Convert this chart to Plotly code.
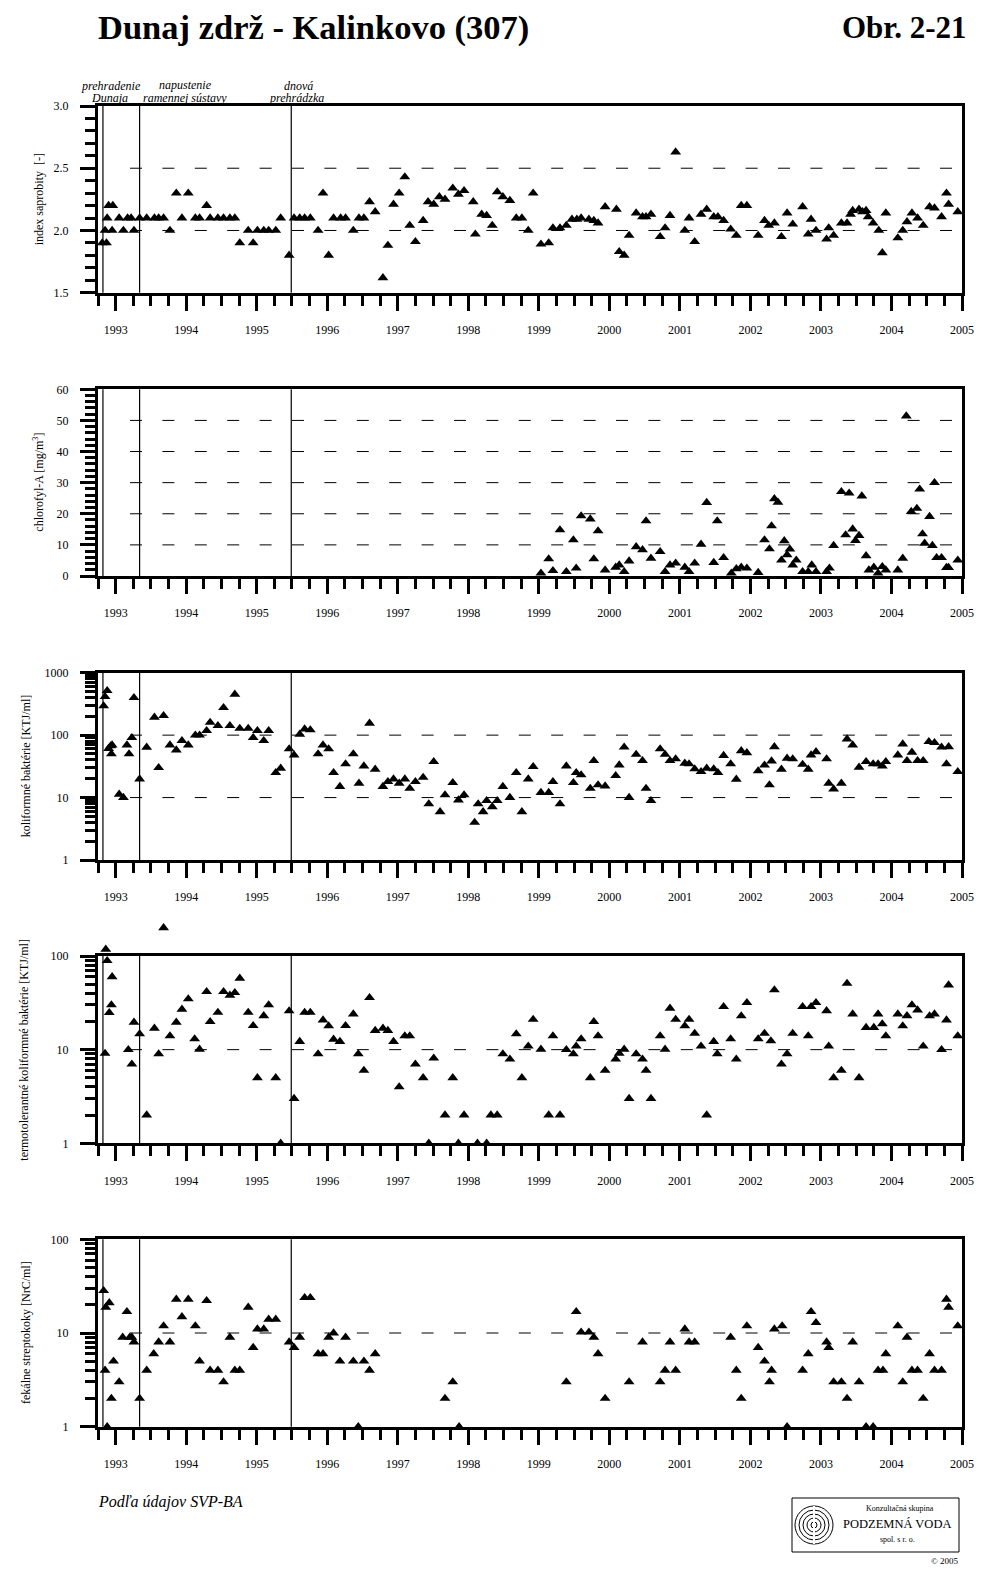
import plotly.graph_objects as go

# The page body has an 8px margin, so the figure is 16px smaller than the window
PAGE_W, PAGE_H = 992, 1574
OFF = 8
W, H = PAGE_W - 2 * OFF, PAGE_H - 2 * OFF

TITLE = "Dunaj zdrž - Kalinkovo (307)"
FIG_NO = "Obr. 2-21"
SOURCE = "Podľa údajov SVP-BA"

EVENT_DATES = [1992.82, 1993.34, 1995.49]
EVENT_LABELS = [("prehradenie", "Dunaja"), ("napustenie", "ramennej sústavy"), ("dnová", "prehrádzka")]

# ---------- panel 1: index saprobity ----------
T_SAP = [1992.81, 1992.85, 1992.87, 1992.88, 1992.90, 1992.95, 1992.96, 1993.05, 1993.11, 1993.17,
         1993.22, 1993.26, 1993.34, 1993.44, 1993.55, 1993.61, 1993.68, 1993.77, 1993.86, 1993.94,
         1994.03, 1994.13, 1994.19, 1994.29, 1994.34, 1994.45, 1994.53, 1994.62, 1994.69, 1994.76,
         1994.88, 1994.95, 1995.01, 1995.10, 1995.17, 1995.27, 1995.34, 1995.46, 1995.53, 1995.61,
         1995.68, 1995.76, 1995.87, 1995.94, 1996.02, 1996.09, 1996.19, 1996.26, 1996.37, 1996.45,
         1996.52, 1996.60, 1996.68, 1996.79, 1996.86, 1996.94, 1997.02, 1997.10, 1997.17, 1997.25,
         1997.36, 1997.43, 1997.51, 1997.59, 1997.67, 1997.78, 1997.86, 1997.94, 1998.07, 1998.10,
         1998.19, 1998.26, 1998.34, 1998.41, 1998.49, 1998.59, 1998.68, 1998.76, 1998.85, 1998.92,
         1999.03, 1999.14, 1999.20, 1999.30, 1999.39, 1999.47, 1999.54, 1999.60, 1999.71, 1999.78,
         1999.84, 1999.94, 2000.10, 2000.14, 2000.21, 2000.28, 2000.38, 2000.47, 2000.52, 2000.59,
         2000.72, 2000.79, 2000.86, 2000.94, 2001.07, 2001.13, 2001.21, 2001.30, 2001.38, 2001.48,
         2001.54, 2001.62, 2001.72, 2001.80, 2001.87, 2001.95, 2002.11, 2002.20, 2002.26, 2002.34,
         2002.44, 2002.52, 2002.60, 2002.74, 2002.82, 2002.86, 2002.93, 2003.08, 2003.11, 2003.18,
         2003.29, 2003.37, 2003.42, 2003.45, 2003.54, 2003.59, 2003.64, 2003.67, 2003.74, 2003.82,
         2003.87, 2003.92, 2004.09, 2004.16, 2004.22, 2004.29, 2004.37, 2004.45, 2004.54, 2004.61,
         2004.71, 2004.78, 2004.81, 2004.94]
V_SAP = [1.9, 2.0, 1.9, 2.1, 2.2, 2.0, 2.2, 2.1, 2.0, 2.1,
         2.1, 2.0, 2.1, 2.1, 2.1, 2.1, 2.1, 2.0, 2.3, 2.1,
         2.3, 2.1, 2.1, 2.2, 2.1, 2.1, 2.1, 2.1, 2.1, 1.9,
         2.0, 1.9, 2.0, 2.0, 2.0, 2.0, 2.1, 1.8, 2.1, 2.1,
         2.1, 2.1, 2.0, 2.3, 1.8, 2.1, 2.1, 2.1, 2.0, 2.1,
         2.1, 2.23, 2.15, 1.62, 1.88, 2.21, 2.30, 2.43, 2.04, 1.91,
         2.08, 2.23, 2.21, 2.27, 2.25, 2.34, 2.29, 2.32, 2.23, 1.97,
         2.13, 2.12, 2.04, 2.31, 2.27, 2.24, 2.10, 2.10, 2.00, 2.30,
         1.89, 1.90, 2.02, 2.02, 2.04, 2.09, 2.09, 2.10, 2.09, 2.08,
         2.06, 2.19, 2.17, 1.83, 1.80, 1.96, 2.14, 2.11, 2.11, 2.13,
         1.95, 2.02, 2.12, 2.63, 2.00, 2.10, 1.91, 2.13, 2.17, 2.11,
         2.11, 2.08, 2.01, 1.96, 2.20, 2.20, 1.96, 2.08, 2.04, 2.06,
         1.95, 2.14, 2.05, 2.19, 1.97, 2.09, 2.00, 1.93, 2.02, 1.96,
         2.06, 2.06, 2.13, 2.16, 2.17, 2.15, 2.16, 2.11, 2.06, 2.00,
         1.82, 2.14, 1.94, 2.00, 2.07, 2.14, 2.10, 2.04, 2.19, 2.18,
         2.11, 2.30, 2.21, 2.15]

# ---------- panel 2: chlorofyl-A ----------
T_CHL = [1999.03, 1999.14, 1999.20, 1999.30, 1999.39, 1999.49, 1999.53, 1999.60, 1999.73, 1999.78,
         1999.84, 1999.94, 2000.09, 2000.14, 2000.21, 2000.28, 2000.38, 2000.47, 2000.52, 2000.59,
         2000.72, 2000.79, 2000.86, 2000.94, 2001.07, 2001.13, 2001.21, 2001.30, 2001.38, 2001.48,
         2001.53, 2001.62, 2001.73, 2001.80, 2001.87, 2001.95, 2002.11, 2002.20, 2002.27, 2002.30,
         2002.34, 2002.39, 2002.44, 2002.48, 2002.52, 2002.56, 2002.60, 2002.65, 2002.74, 2002.82,
         2002.87, 2002.93, 2003.08, 2003.12, 2003.18, 2003.29, 2003.35, 2003.40, 2003.45, 2003.49,
         2003.54, 2003.58, 2003.64, 2003.68, 2003.75, 2003.81, 2003.87, 2003.92, 2004.09, 2004.16,
         2004.21, 2004.28, 2004.36, 2004.40, 2004.44, 2004.47, 2004.54, 2004.58, 2004.61, 2004.64,
         2004.71, 2004.78, 2004.81, 2004.94]
V_CHL = [0.9, 5.5, 1.7, 14.8, 1.4, 11.6, 2.5, 19.3, 18.3, 5.5,
         14.5, 1.9, 2.8, 3.5, 1.4, 4.8, 9.4, 8.4, 17.7, 5.7,
         7.8, 1.4, 3.5, 4.1, 2.8, 1.4, 4.1, 10.2, 23.6, 4.3,
         17.7, 5.9, 0.9, 2.3, 2.8, 2.5, 1.1, 11.6, 8.7, 16.1,
         24.8, 23.7, 5.1, 11.3, 6.8, 8.6, 3.5, 5.1, 1.4, 1.4,
         3.5, 1.4, 1.4, 2.5, 9.8, 27.1, 13.2, 26.6, 15.1, 11.4,
         13.0, 25.7, 6.5, 1.9, 2.8, 0.9, 3.0, 1.9, 1.9, 5.7,
         51.4, 20.7, 21.7, 27.9, 13.5, 10.5, 19.1, 9.8, 30.0, 5.9,
         5.9, 2.7, 2.7, 5.1]

# ---------- panel 3: koliformne baktérie ----------
T_KOL = [1992.83, 1992.85, 1992.88, 1992.90, 1992.93, 1992.94, 1992.95, 1993.05, 1993.11, 1993.16,
         1993.19, 1993.23, 1993.26, 1993.34, 1993.44, 1993.55, 1993.61, 1993.68, 1993.77, 1993.86,
         1993.94, 1994.03, 1994.13, 1994.19, 1994.29, 1994.34, 1994.45, 1994.53, 1994.62, 1994.69,
         1994.76, 1994.88, 1994.95, 1995.01, 1995.10, 1995.17, 1995.27, 1995.34, 1995.46, 1995.53,
         1995.61, 1995.68, 1995.76, 1995.87, 1995.94, 1996.02, 1996.09, 1996.18, 1996.26, 1996.37,
         1996.45, 1996.52, 1996.60, 1996.68, 1996.79, 1996.86, 1996.94, 1997.02, 1997.10, 1997.17,
         1997.25, 1997.36, 1997.44, 1997.51, 1997.60, 1997.67, 1997.78, 1997.86, 1997.94, 1998.09,
         1998.14, 1998.21, 1998.26, 1998.34, 1998.41, 1998.49, 1998.59, 1998.68, 1998.76, 1998.85,
         1998.92, 1999.03, 1999.14, 1999.20, 1999.30, 1999.39, 1999.49, 1999.53, 1999.60, 1999.73,
         1999.78, 1999.84, 1999.94, 2000.09, 2000.14, 2000.21, 2000.28, 2000.38, 2000.47, 2000.52,
         2000.59, 2000.72, 2000.79, 2000.86, 2000.94, 2001.07, 2001.13, 2001.21, 2001.30, 2001.38,
         2001.48, 2001.54, 2001.62, 2001.72, 2001.80, 2001.87, 2001.95, 2002.11, 2002.20, 2002.27,
         2002.30, 2002.34, 2002.44, 2002.52, 2002.60, 2002.74, 2002.82, 2002.86, 2002.93, 2003.08,
         2003.11, 2003.18, 2003.29, 2003.37, 2003.45, 2003.54, 2003.64, 2003.74, 2003.81, 2003.87,
         2003.92, 2004.09, 2004.16, 2004.22, 2004.29, 2004.37, 2004.45, 2004.53, 2004.61, 2004.71,
         2004.78, 2004.81, 2004.94]
V_KOL = [293, 413, 515, 61, 67, 50, 69.5, 11.3, 10, 69.5,
         50, 91, 398, 19.8, 63.8, 193, 30.1, 205, 69.5, 57.8,
         81.5, 69.5, 100, 100, 118, 160, 142, 275, 142, 450,
         128, 128, 91, 118, 81.5, 118, 25, 29.4, 60, 48,
         103, 125, 121, 50, 69.5, 60, 25, 15, 34.5, 50,
         16.9, 32, 155, 28.3, 15, 18, 19.8, 16.9, 19.8, 14,
         18, 21, 7.9, 37.6, 5.9, 11, 17.3, 9.1, 11, 4.0,
         7.9, 5.9, 8.9, 7.1, 8.9, 15, 10, 25, 5.9, 19.8,
         31.3, 12, 12, 18, 7.9, 32, 17.3, 25, 23, 14,
         39, 15.9, 15.3, 22.4, 33.2, 64, 10, 49, 39, 14,
         8.9, 60, 49, 39, 41.5, 35.4, 34.5, 28.7, 26, 29.4,
         28.7, 25, 47, 34.5, 19.6, 56, 52, 26.7, 33, 15.9,
         38.5, 65, 28.3, 42.5, 41.5, 34, 28.3, 48, 54, 41.5,
         16.9, 13.7, 16.9, 86.7, 69.5, 30.5, 37.6, 34.5, 34.5, 32,
         37.6, 48, 72, 39, 53, 39, 39, 78.6, 75.7, 64,
         34.5, 65, 26]

# ---------- panel 4: termotolerantne koliformne baktérie ----------
T_TKB = [1992.85, 1992.86, 1992.88, 1992.91, 1992.94, 1992.95, 1993.18, 1993.23, 1993.26, 1993.34,
         1993.44, 1993.55, 1993.61, 1993.68, 1993.77, 1993.86, 1993.94, 1994.03, 1994.12, 1994.19,
         1994.29, 1994.34, 1994.45, 1994.53, 1994.62, 1994.69, 1994.76, 1994.88, 1994.95, 1995.01,
         1995.10, 1995.17, 1995.27, 1995.34, 1995.46, 1995.53, 1995.61, 1995.68, 1995.76, 1995.87,
         1995.94, 1996.02, 1996.09, 1996.18, 1996.26, 1996.37, 1996.44, 1996.52, 1996.60, 1996.68,
         1996.79, 1996.86, 1996.94, 1997.02, 1997.10, 1997.17, 1997.25, 1997.36, 1997.44, 1997.51,
         1997.67, 1997.78, 1997.86, 1997.94, 1998.13, 1998.26, 1998.32, 1998.41, 1998.49, 1998.59,
         1998.68, 1998.76, 1998.85, 1998.92, 1999.03, 1999.14, 1999.20, 1999.30, 1999.39, 1999.49,
         1999.53, 1999.60, 1999.73, 1999.78, 1999.84, 1999.94, 2000.09, 2000.14, 2000.21, 2000.28,
         2000.38, 2000.47, 2000.52, 2000.59, 2000.72, 2000.79, 2000.86, 2000.94, 2001.07, 2001.13,
         2001.21, 2001.30, 2001.38, 2001.48, 2001.53, 2001.62, 2001.72, 2001.80, 2001.87, 2001.95,
         2002.11, 2002.20, 2002.29, 2002.34, 2002.44, 2002.52, 2002.60, 2002.74, 2002.82, 2002.86,
         2002.93, 2003.08, 2003.11, 2003.18, 2003.29, 2003.37, 2003.45, 2003.54, 2003.64, 2003.75,
         2003.81, 2003.87, 2003.92, 2004.09, 2004.16, 2004.22, 2004.29, 2004.37, 2004.45, 2004.54,
         2004.61, 2004.71, 2004.78, 2004.81, 2004.94]
V_TKB = [9.1, 118, 89, 24.8, 30, 60, 10, 7, 19.6, 14.7,
         2, 16.9, 9, 200, 14, 19.6, 27, 34.8, 13, 10.1,
         41.6, 19.9, 25, 41.6, 38, 40.6, 57.8, 25, 18, 5,
         23, 30, 5, 1.0, 25.9, 3, 12.2, 25, 25, 9,
         20.7, 17.9, 12.9, 12.2, 18, 24, 9, 6, 35.9, 16,
         16.9, 16, 12.2, 4, 14, 14, 7, 5, 1, 8.1,
         2, 5, 1, 2, 1, 1, 2, 2, 9, 7.9,
         14.7, 5, 10.9, 21, 10.1, 2, 14, 2, 10, 9,
         10.9, 13, 5, 19.9, 14, 6, 7.9, 9.1, 10.1, 3,
         9, 7.9, 6, 3, 14, 10.1, 27.6, 21, 17.9, 21,
         14.9, 10.9, 2, 12.2, 9, 28.8, 13, 7.9, 22.9, 31.7,
         13, 14.9, 12.4, 43.4, 7, 9, 14.9, 28.8, 14, 28.8,
         31.7, 26, 10.9, 5, 6, 51, 24, 5, 17.2, 17.2,
         24, 18.8, 14, 24, 17.9, 23, 30, 26.5, 10.9, 22.9,
         24, 10, 20.7, 49, 14]

# ---------- panel 5: fekalne streptokoky ----------
T_FS = [1992.83, 1992.85, 1992.86, 1992.88, 1992.91, 1992.94, 1992.97, 1993.05, 1993.10, 1993.16,
        1993.20, 1993.23, 1993.26, 1993.34, 1993.44, 1993.54, 1993.61, 1993.68, 1993.77, 1993.86,
        1993.94, 1994.03, 1994.13, 1994.19, 1994.29, 1994.34, 1994.45, 1994.53, 1994.62, 1994.69,
        1994.76, 1994.88, 1994.95, 1995.01, 1995.10, 1995.17, 1995.27, 1995.46, 1995.53, 1995.61,
        1995.68, 1995.76, 1995.87, 1995.94, 1996.02, 1996.09, 1996.18, 1996.26, 1996.37, 1996.44,
        1996.52, 1996.60, 1996.68, 1997.67, 1997.78, 1997.87, 1999.39, 1999.53, 1999.60, 1999.71,
        1999.78, 1999.84, 1999.94, 2000.28, 2000.47, 2000.72, 2000.79, 2000.86, 2000.94, 2001.07,
        2001.13, 2001.21, 2001.72, 2001.80, 2001.87, 2001.95, 2002.11, 2002.20, 2002.27, 2002.30,
        2002.34, 2002.45, 2002.52, 2002.74, 2002.82, 2002.86, 2002.93, 2003.08, 2003.11, 2003.18,
        2003.29, 2003.37, 2003.45, 2003.54, 2003.64, 2003.74, 2003.81, 2003.88, 2003.92, 2004.09,
        2004.16, 2004.22, 2004.29, 2004.37, 2004.45, 2004.54, 2004.61, 2004.71, 2004.78, 2004.81,
        2004.94]
V_FS = [28.3, 4, 18.8, 1, 21, 2, 5, 3, 9, 16.9,
        9, 9, 8, 2, 4, 6, 8, 11.9, 8, 22.9,
        14.9, 22.9, 11.9, 5, 22.1, 4, 4, 3, 9, 4,
        4, 18.8, 7, 11, 11, 14, 14, 8, 7, 9,
        23.8, 23.8, 6, 6, 9, 10, 5, 9, 5, 1,
        5, 4, 6, 2, 3, 1, 3, 16.9, 10.2, 10.2,
        9, 6, 2, 3, 8, 3, 4, 8, 4, 11,
        8, 8, 9, 4, 2, 11.9, 7, 5, 3, 4,
        11, 11.9, 1, 4, 6, 16.9, 12.9, 8, 7, 3,
        3, 2, 8, 3, 1, 1, 4, 4, 6, 11.9,
        3, 9, 4, 4, 2, 6, 4, 4, 22.9, 18.8,
        11.9]

Y_TITLES = ["index saprobity  [-]", "chlorofyl-A [mg/m<sup>3</sup>]", "koliformné baktérie [KTJ/ml]",
            "termotolerantné koliformné baktérie [KTJ/ml]", "fekálne streptokoky [NrC/ml]"]

SERIES = [(T_SAP, V_SAP), (T_CHL, V_CHL), (T_KOL, V_KOL), (T_TKB, V_TKB), (T_FS, V_FS)]

# ---------- layout geometry (page pixels) ----------
X_LEFT, X_RIGHT = 98, 962
PANEL_PX = [(106, 292.7), (389.3, 576), (672.7, 860), (956, 1143.3), (1239.3, 1426.7)]
YTITLE_X = [39, 39, 26, 24, 26]
# extra room above a panel where off-scale markers are still drawn (same scale, hidden axis)
OVERFLOW_PX = [0, 0, 0, 50, 0]


def pxx(p):
    return (p - OFF) / W


def pxy(p):
    return 1 - (p - OFF) / H


def log_minor(decades):
    return [m * 10 ** d for d in range(decades) for m in range(2, 10)]


YAXES = [
    dict(type="linear", range=[1.5, 3.0], tickvals=[1.5, 2.0, 2.5, 3.0], tickformat=".1f",
         minor_vals=None, minor_dtick=0.1, grid=[2.0, 2.5]),
    dict(type="linear", range=[0, 60], tickvals=[0, 10, 20, 30, 40, 50, 60], tickformat="d",
         minor_vals=None, minor_dtick=2, grid=[10, 20, 30, 40, 50]),
    dict(type="log", range=[0, 3], tickvals=[1, 10, 100, 1000], tickformat="d",
         minor_vals=log_minor(3), minor_dtick=None, grid=[10, 100]),
    dict(type="log", range=[0, 2], tickvals=[1, 10, 100], tickformat="d",
         minor_vals=log_minor(2), minor_dtick=None, grid=[10]),
    dict(type="log", range=[0, 2], tickvals=[1, 10, 100], tickformat="d",
         minor_vals=log_minor(2), minor_dtick=None, grid=[10]),
]

TICKFONT = dict(family="Liberation Serif", size=12, color="black")

fig = go.Figure()
shapes = []
annotations = []
layout_axes = {}
extra_axis_no = len(SERIES) + 1

for i, ((t, v), ycfg, (ptop, pbot), ovf) in enumerate(zip(SERIES, YAXES, PANEL_PX, OVERFLOW_PX)):
    k = "" if i == 0 else str(i + 1)

    trace_y = "y" + k
    if ovf > 0:
        # hidden axis with identical scale but extended upward
        ek = str(extra_axis_no)
        extra_axis_no += 1
        r0, r1 = ycfg["range"]
        r1_ext = r0 + (r1 - r0) * (pbot - (ptop - ovf)) / (pbot - ptop)
        layout_axes["yaxis" + ek] = dict(
            domain=[pxy(pbot), pxy(ptop - ovf)], anchor="x" + k, type=ycfg["type"],
            range=[r0, r1_ext], visible=False, showgrid=False, zeroline=False,
            fixedrange=True, automargin=False)
        trace_y = "y" + ek

    fig.add_trace(go.Scatter(
        x=t, y=v, mode="markers", xaxis="x" + k, yaxis=trace_y,
        marker=dict(symbol="triangle-up", size=9.5, color="black", line=dict(width=0)),
        cliponaxis=False, showlegend=False, hoverinfo="skip"))

    layout_axes["xaxis" + k] = dict(
        domain=[pxx(X_LEFT), pxx(X_RIGHT)], anchor="y" + k, range=[1992.75, 2005],
        tickmode="linear", tick0=1993, dtick=1, tickformat="d",
        ticks="outside", ticklen=15, tickwidth=3, tickcolor="black",
        showline=True, linewidth=3, linecolor="black", mirror=True,
        showgrid=False, zeroline=False, tickfont=TICKFONT, ticklabelstandoff=9,
        automargin=False,
        minor=dict(tickmode="linear", tick0=1993, dtick=0.25, ticks="outside",
                   ticklen=10, tickwidth=3, tickcolor="black", showgrid=False),
        fixedrange=True)

    minor = dict(ticks="outside", ticklen=10, tickwidth=2.5, tickcolor="black", showgrid=False)
    if ycfg["minor_vals"] is not None:
        minor.update(tickmode="array", tickvals=ycfg["minor_vals"])
    else:
        minor.update(tickmode="linear", tick0=ycfg["range"][0], dtick=ycfg["minor_dtick"])

    layout_axes["yaxis" + k] = dict(
        domain=[pxy(pbot), pxy(ptop)], anchor="x" + k, type=ycfg["type"], range=ycfg["range"],
        tickmode="array", tickvals=ycfg["tickvals"], tickformat=ycfg["tickformat"],
        ticks="outside", ticklen=15, tickwidth=3, tickcolor="black",
        showline=True, linewidth=3, linecolor="black", mirror=True,
        showgrid=False, zeroline=False, tickfont=TICKFONT, ticklabelstandoff=9,
        automargin=False, minor=minor, fixedrange=True)

    # dashed horizontal grid lines (shapes take data values, also on log axes)
    for g in ycfg["grid"]:
        shapes.append(dict(type="line", xref="paper", x0=pxx(130), x1=pxx(952),
                           yref="y" + k, y0=g, y1=g, layer="below",
                           line=dict(color="black", width=1, dash="12px,20.4px")))
    # event lines
    for ev in EVENT_DATES:
        shapes.append(dict(type="line", xref="x" + k, x0=ev, x1=ev,
                           yref="y" + k + " domain", y0=0, y1=1, layer="below",
                           line=dict(color="black", width=1.2)))

    # y-axis title
    annotations.append(dict(text=Y_TITLES[i], x=pxx(YTITLE_X[i]), y=pxy((ptop + pbot) / 2),
                            xref="paper", yref="paper", xanchor="center", yanchor="middle",
                            textangle=-90, showarrow=False,
                            font=dict(family="Liberation Serif", size=12, color="black")))

# title & figure number
annotations.append(dict(text=TITLE, x=pxx(96), y=pxy(27), xref="paper", yref="paper",
                        xanchor="left", yanchor="middle", showarrow=False,
                        font=dict(family="Liberation Serif", size=34.5, color="black", weight="bold")))
annotations.append(dict(text=FIG_NO, x=pxx(969), y=pxy(27), xref="paper", yref="paper",
                        xanchor="right", yanchor="middle", showarrow=False,
                        font=dict(family="Liberation Serif", size=31, color="black", weight="bold")))

# event labels
EV_LABEL_POS = [((111, 86), (109, 98)), ((185, 85), (185, 98)), ((298, 86), (296, 98))]
for (l1, l2), ((x1, y1), (x2, y2)) in zip(EVENT_LABELS, EV_LABEL_POS):
    for txt, xx, yy in ((l1, x1, y1), (l2, x2, y2)):
        annotations.append(dict(text=txt, x=pxx(xx), y=pxy(yy), xref="paper", yref="paper",
                                xanchor="center", yanchor="middle", showarrow=False,
                                font=dict(family="Liberation Serif", size=12, color="black",
                                          style="italic")))

# source note
annotations.append(dict(text=SOURCE, x=pxx(96), y=pxy(1502), xref="paper", yref="paper",
                        xanchor="left", yanchor="middle", showarrow=False,
                        font=dict(family="Liberation Serif", size=16, color="black", style="italic")))

# logo box
BOX = (792, 1498, 959, 1552)
shapes.append(dict(type="rect", xref="paper", yref="paper",
                   x0=pxx(BOX[0]), x1=pxx(BOX[2]), y0=pxy(BOX[3]), y1=pxy(BOX[1]),
                   line=dict(color="black", width=1)))
cx, cy = 814, 1525
for r in (3, 7, 11, 15, 19):
    shapes.append(dict(type="circle", xref="paper", yref="paper",
                       x0=pxx(cx - r), x1=pxx(cx + r), y0=pxy(cy + r), y1=pxy(cy - r),
                       line=dict(color="black", width=1)))
shapes.append(dict(type="line", xref="paper", yref="paper", x0=pxx(cx), x1=pxx(cx),
                   y0=pxy(cy - 19), y1=pxy(cy + 19), line=dict(color="white", width=2)))
annotations.append(dict(text="Konzultačná skupina", x=pxx(900), y=pxy(1508), xref="paper",
                        yref="paper", xanchor="center", yanchor="middle", showarrow=False,
                        font=dict(family="Liberation Serif", size=8, color="black")))
annotations.append(dict(text="PODZEMNÁ VODA", x=pxx(897), y=pxy(1524), xref="paper",
                        yref="paper", xanchor="center", yanchor="middle", showarrow=False,
                        font=dict(family="Liberation Serif", size=12.5, color="black")))
annotations.append(dict(text="spol. s r. o.", x=pxx(897), y=pxy(1539), xref="paper",
                        yref="paper", xanchor="center", yanchor="middle", showarrow=False,
                        font=dict(family="Liberation Serif", size=8, color="black")))
annotations.append(dict(text="© 2005", x=pxx(961), y=pxy(1561), xref="paper",
                        yref="paper", xanchor="right", yanchor="middle", showarrow=False,
                        font=dict(family="Liberation Serif", size=9, color="black")))

fig.update_layout(
    width=W, height=H, margin=dict(l=0, r=0, t=0, b=0, autoexpand=False),
    paper_bgcolor="white", plot_bgcolor="rgba(0,0,0,0)",
    font=dict(family="Liberation Serif", color="black"),
    showlegend=False, shapes=shapes, annotations=annotations,
    **layout_axes)

fig.write_html("out.html")
